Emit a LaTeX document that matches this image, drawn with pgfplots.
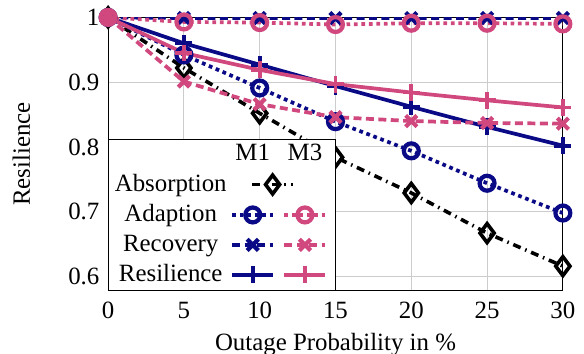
\documentclass[border=0pt]{standalone}
\usepackage{fontspec}
\setmainfont{Liberation Serif}
\usepackage{pgfplots}
\pgfplotsset{compat=1.18}
\usetikzlibrary{calc}
\definecolor{navy}{RGB}{10,10,135}
\definecolor{rose}{RGB}{208,72,125}
\pgfplotsset{
  mydotted/.style={dash pattern=on 1.5pt off 1.5pt},
  absM1/.style={black, line width=1.45pt, dash pattern=on 3.2pt off 2pt on 0.6pt off 2pt, mark=diamond, mark size=3.8pt, mark options={solid}},
  adaM1/.style={navy, line width=1.5pt, mydotted, mark=o, mark size=3pt, mark options={solid, line width=1.7pt}},
  adaM3/.style={rose, line width=1.5pt, mydotted, mark=o, mark size=3pt, mark options={solid, line width=1.7pt}},
  recM1/.style={navy, line width=1.5pt, dash pattern=on 3.2pt off 1.8pt, mark=x, mark size=3.2pt, mark options={solid, line width=1.7pt}},
  recM3/.style={rose, line width=1.5pt, dash pattern=on 3.2pt off 1.8pt, mark=x, mark size=3.2pt, mark options={solid, line width=1.7pt}},
  resM1/.style={navy, line width=1.5pt, mark=+, mark size=3.4pt, mark options={solid}},
  resM3/.style={rose, line width=1.5pt, mark=+, mark size=3.4pt, mark options={solid}},
  shortleg/.style={legend image code/.code={%
    \draw[mark repeat=2,mark phase=2] plot coordinates {(0pt,0pt) (8.25pt,0pt) (16.5pt,0pt)};}},
  shiftleg/.style={legend image code/.code={%
    \draw[overlay,mark repeat=2,mark phase=2] plot coordinates {(8pt,0pt) (16.25pt,0pt) (24.5pt,0pt)};}},
}
\begin{document}
\begin{tikzpicture}
\begin{axis}[
  scale only axis,
  width=183pt, height=110pt,
  xmin=0, xmax=30, ymin=0.578, ymax=1,
  xtick={0,5,10,15,20,25,30},
  ytick={0.6,0.7,0.8,0.9,1},
  yticklabels={0.6,0.7,0.8,0.9,1},
  grid=major,
  major grid style={gray!40},
  tick style={draw=none},
  /pgf/number format/assume math mode=true,
  xticklabel style={yshift=-1pt},
  xlabel={Outage Probability in \%},
  ylabel={Resilience},
  ylabel shift=8.5pt,
  xlabel shift=-1pt,
  legend columns=3,
  legend cell align=center,
  legend style={at={(0,0)}, anchor=south west, draw=black, fill=white,
    row sep=1.8pt, column sep=0.5pt, inner sep=1pt, nodes={inner sep=1pt}},
]
\addplot[absM1, forget plot] coordinates {(0,1) (5,0.922) (10,0.852) (15,0.784) (20,0.729) (25,0.667) (30,0.616)};
\addplot[adaM1, forget plot] coordinates {(0,1) (5,0.942) (10,0.891) (15,0.839) (20,0.794) (25,0.744) (30,0.698)};
\addplot[recM1, forget plot] coordinates {(0,1) (5,0.999) (10,0.999) (15,0.999) (20,0.999) (25,0.999) (30,0.999)};
\addplot[resM1, forget plot] coordinates {(0,1) (5,0.960) (10,0.927) (15,0.894) (20,0.862) (25,0.831) (30,0.802)};
\addplot[adaM3, forget plot] coordinates {(0,1) (5,0.993) (10,0.992) (15,0.989) (20,0.991) (25,0.991) (30,0.990)};
\addplot[recM3, forget plot] coordinates {(0,1) (5,0.901) (10,0.866) (15,0.846) (20,0.840) (25,0.837) (30,0.836)};
\addplot[resM3, forget plot] coordinates {(0,1) (5,0.945) (10,0.919) (15,0.897) (20,0.884) (25,0.872) (30,0.861)};
% legend: header row
\addlegendimage{empty legend}\addlegendentry{}
\addlegendimage{legend image code/.code={\node[inner sep=1pt] at (8.25pt,0) {M1};}}\addlegendentry{}
\addlegendimage{legend image code/.code={\node[inner sep=1pt] at (8.25pt,0) {M3};}}\addlegendentry{}
% Absorption
\addlegendimage{empty legend}\addlegendentry{Absorption}
\addlegendimage{absM1,shiftleg}\addlegendentry{}
\addlegendimage{empty legend}\addlegendentry{}
% Adaption
\addlegendimage{empty legend}\addlegendentry{Adaption}
\addlegendimage{adaM1,shortleg}\addlegendentry{}
\addlegendimage{adaM3,shortleg}\addlegendentry{}
% Recovery
\addlegendimage{empty legend}\addlegendentry{Recovery}
\addlegendimage{recM1,shortleg}\addlegendentry{}
\addlegendimage{recM3,shortleg}\addlegendentry{}
% Resilience
\addlegendimage{empty legend}\addlegendentry{Resilience}
\addlegendimage{resM1,shortleg}\addlegendentry{}
\addlegendimage{resM3,shortleg}\addlegendentry{}
\end{axis}
\pgfresetboundingbox
\useasboundingbox ($(current axis.south west)+(-43.5pt,-25.4pt)$) rectangle ($(current axis.north east)+(8.5pt,7pt)$);
\end{tikzpicture}
\end{document}
